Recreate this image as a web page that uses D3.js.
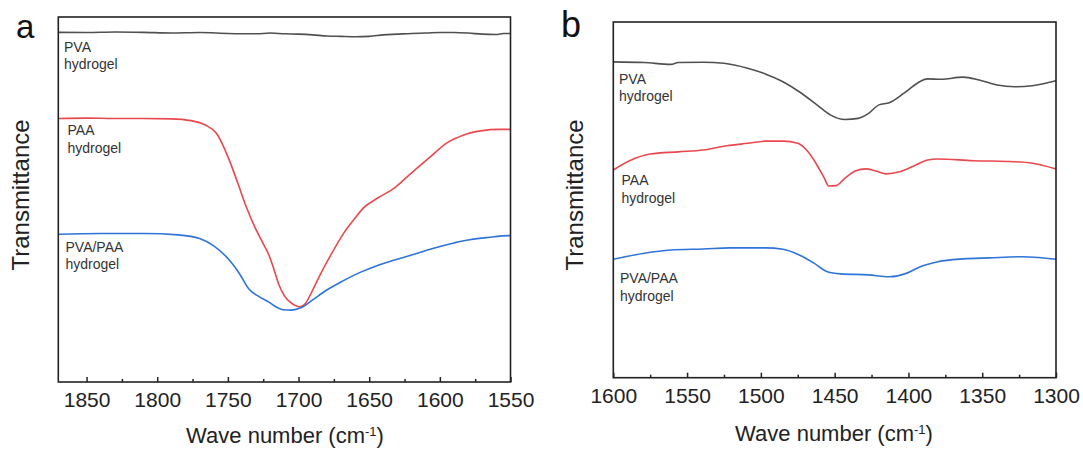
<!DOCTYPE html>
<html>
<head>
<meta charset="utf-8">
<script src="https://cdn.jsdelivr.net/npm/d3@7"></script>
<style>
  html, body { margin: 0; padding: 0; background: #fff; }
  svg { display: block; font-family: "Liberation Sans", Arial, sans-serif; }
</style>
</head>
<body>
<svg id="chart" width="1083" height="452"></svg>
<script>
// ---------- data (wavenumber cm^-1, transmittance a.u.) ----------
const panelLabels = ["a", "b"];
const seriesNames = ["PVA\nhydrogel", "PAA\nhydrogel", "PVA/PAA\nhydrogel"];
const xDomainA = [1870, 1550];
const xDomainB = [1600, 1300];
const majorTicksA = [1850, 1800, 1750, 1700, 1650, 1600, 1550];
const majorTicksB = [1600, 1550, 1500, 1450, 1400, 1350, 1300];
const minorTicksA = [1825, 1775, 1725, 1675, 1625, 1575];
const minorTicksB = [1575, 1525, 1475, 1425, 1375, 1325];

const pvaA = [[1870,95.8],[1850,95.75],[1830,95.9],[1810,95.8],[1790,95.6],[1770,95.75],[1750,95.5],
  [1730,95.4],[1720,95.6],[1710,95.4],[1700,95.3],[1690,95.1],[1680,94.8],[1670,94.7],[1660,94.6],
  [1650,94.7],[1640,95.1],[1630,95.3],[1620,95.5],[1610,95.6],[1600,95.75],[1590,95.75],[1580,95.6],
  [1570,95.3],[1560,95.2],[1555,95.5],[1550,95.5]];
const paaA = [[1870,72.2],[1850,72.3],[1830,72.2],[1810,72.2],[1790,72.1],[1776,71.6],[1766,70.4],
  [1758,68.1],[1749,60.8],[1743,54.5],[1737,48.0],[1731,42.5],[1725,37.9],[1721,34.8],[1718,31.6],
  [1714,26.8],[1710,23.6],[1705,21.6],[1699,20.6],[1695,21.6],[1690,25.2],[1684,29.9],[1678,34.2],[1668,40.8],
  [1661,44.4],[1654,47.7],[1644,50.4],[1632,53.2],[1620,57.3],[1607,61.6],[1595,65.5],[1583,67.7],
  [1571,68.8],[1558,69.2],[1550,69.2]];
const blendA = [[1870,40.5],[1840,40.7],[1810,40.7],[1785,40.3],[1770,39.3],[1760,37.3],[1749,33.4],
  [1742,29.8],[1735,25.4],[1728,23.4],[1721,21.9],[1716,20.6],[1711,19.8],[1705,19.7],[1698,20.4],
  [1690,22.5],[1680,25.2],[1670,27.4],[1656,30.1],[1645,31.8],[1632,33.4],[1620,34.8],[1605,36.6],
  [1590,38.1],[1583,38.7],[1566,39.6],[1551,40.1],[1550,40.1]];

const pvaB = [[1600,88.8],[1579,88.6],[1561,88.1],[1556,88.6],[1539,88.7],[1525,88.4],[1509,87.0],
  [1497,85.4],[1485,83.2],[1474,80.4],[1462,76.7],[1453,73.9],[1443,72.6],[1434,72.9],[1427,74.3],
  [1420,76.7],[1413,77.3],[1403,80.0],[1394,82.8],[1387,84.0],[1378,83.9],[1363,84.5],[1352,83.7],
  [1340,82.3],[1328,81.8],[1316,82.1],[1300,83.5]];
const paaB = [[1600,58.4],[1589,61.0],[1575,62.9],[1556,63.5],[1539,64.0],[1523,65.2],[1509,65.9],
  [1497,66.5],[1485,66.5],[1475,65.9],[1468,63.5],[1462,59.8],[1457,56.1],[1454,53.9],[1449,54.0],
  [1443,56.1],[1436,58.1],[1429,58.7],[1422,58.1],[1415,57.3],[1406,57.9],[1396,59.6],[1387,61.2],
  [1380,61.5],[1356,61.0],[1333,60.8],[1316,60.3],[1300,58.7]];
const blendB = [[1600,33.3],[1579,35.0],[1561,35.9],[1539,36.2],[1521,36.5],[1497,36.5],[1485,36.1],
  [1474,34.5],[1464,32.2],[1455,29.8],[1446,29.2],[1427,28.9],[1413,28.4],[1401,29.4],[1392,31.2],
  [1380,32.6],[1363,33.4],[1345,33.7],[1324,34.0],[1312,33.8],[1300,33.3]];

const colors = ["#505050", "#e8484e", "#2e74d9"];

// ---------- layout ----------
const svg = d3.select("#chart");
const panels = [
  { label: panelLabels[0], box: {l: 58.3, r: 510.5, t: 17, b: 382}, xd: xDomainA,
    major: majorTicksA, minor: minorTicksA, series: [pvaA, paaA, blendA],
    labelPos: [[64, 51.5], [67.5, 135], [65.5, 251.5]], letter: {x: 16, y: 38, size: 33},
    ytitle: {x: 29, y: 195}, xtitle: {x: 285, y: 443} },
  { label: panelLabels[1], box: {l: 613.3, r: 1056, t: 22, b: 377.7}, xd: xDomainB,
    major: majorTicksB, minor: minorTicksB, series: [pvaB, paaB, blendB],
    labelPos: [[619, 83.5], [621.5, 185], [620, 283]], letter: {x: 561, y: 36.5, size: 36},
    ytitle: {x: 583, y: 195}, xtitle: {x: 834, y: 441} }
];

panels.forEach(p => {
  const B = p.box;
  const x = d3.scaleLinear().domain(p.xd).range([B.l, B.r]);
  const y = d3.scaleLinear().domain([0, 100]).range([B.b, B.t]);
  const g = svg.append("g");

  // curves
  const line = d3.line().x(d => x(d[0])).y(d => y(d[1])).curve(d3.curveMonotoneX);
  p.series.forEach((s, i) => {
    g.append("path").datum(s).attr("d", line)
      .attr("fill", "none").attr("stroke", colors[i]).attr("stroke-width", 1.6)
      .attr("stroke-linejoin", "round");
  });

  // frame
  g.append("rect").attr("x", B.l).attr("y", B.t)
    .attr("width", B.r - B.l).attr("height", B.b - B.t)
    .attr("fill", "none").attr("stroke", "#222").attr("stroke-width", 1.6);

  // major axis
  const ax = g.append("g").attr("transform", `translate(0,${B.b})`)
    .call(d3.axisBottom(x).tickValues(p.major).tickFormat(d3.format("d"))
      .tickSizeInner(-5).tickSizeOuter(0).tickPadding(10));
  ax.select(".domain").remove();
  ax.selectAll(".tick line").attr("stroke", "#222").attr("stroke-width", 1.5);
  ax.selectAll(".tick text").attr("fill", "#222").style("font-size", "21px")
    .style("font-family", "'Liberation Sans', Arial, sans-serif");

  // minor axis
  const mx = g.append("g").attr("transform", `translate(0,${B.b})`)
    .call(d3.axisBottom(x).tickValues(p.minor).tickFormat("")
      .tickSizeInner(-3).tickSizeOuter(0));
  mx.select(".domain").remove();
  mx.selectAll(".tick line").attr("stroke", "#222").attr("stroke-width", 1.5);

  // series labels
  seriesNames.forEach((name, i) => {
    const [lx, ly] = p.labelPos[i];
    const t = g.append("text").attr("x", lx).attr("y", ly)
      .attr("fill", "#333").style("font-size", "14px");
    name.split("\n").forEach((part, k) => {
      t.append("tspan").attr("x", lx).attr("dy", k === 0 ? 0 : 17.5).text(part);
    });
  });

  // x title
  const xt = g.append("text").attr("x", p.xtitle.x).attr("y", p.xtitle.y)
    .attr("text-anchor", "middle").attr("fill", "#222").style("font-size", "22px");
  xt.append("tspan").text("Wave number (cm");
  xt.append("tspan").attr("baseline-shift", "super").style("font-size", "13px").text("-1");
  xt.append("tspan").text(")");

  // y title
  g.append("text").attr("transform", `translate(${p.ytitle.x},${p.ytitle.y}) rotate(-90)`)
    .attr("text-anchor", "middle").attr("fill", "#222").style("font-size", "24px")
    .text("Transmittance");

  // panel letter
  g.append("text").attr("x", p.letter.x).attr("y", p.letter.y)
    .attr("fill", "#111").style("font-size", p.letter.size + "px").text(p.label);
});
</script>
</body>
</html>
